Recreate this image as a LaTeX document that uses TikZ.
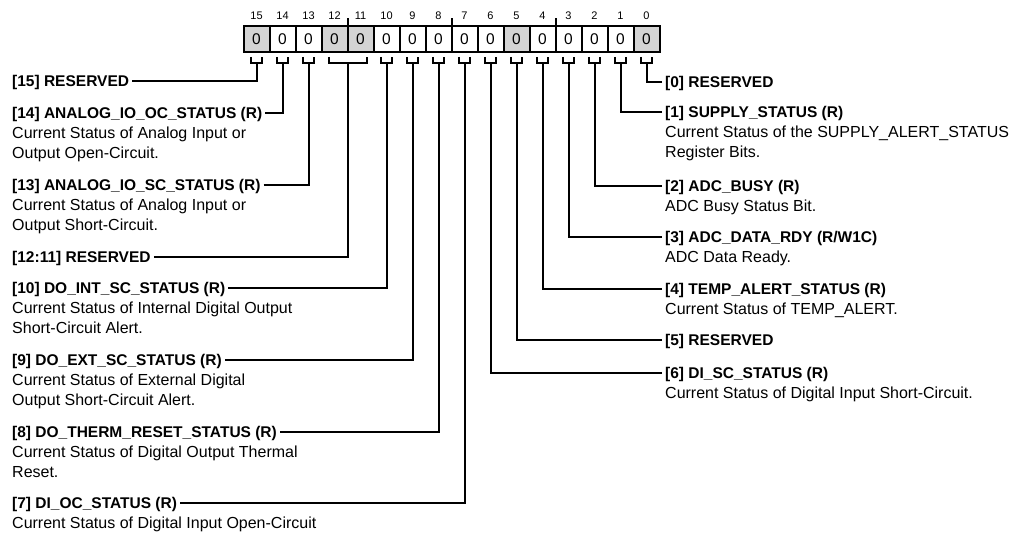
\documentclass[tikz,border=0pt]{standalone}
\usepackage{fontspec}
\setmainfont{Liberation Sans}
\definecolor{cellgray}{RGB}{212,212,212}

\begin{document}
\begin{tikzpicture}[x=1pt, y=-1pt,
    cell/.style={draw, line width=2pt, minimum width=26pt, minimum height=26pt,
      inner sep=0pt, outer sep=0pt, font=\fontsize{15.5}{15.5}\selectfont},
    bitnum/.style={inner sep=0pt, font=\fontsize{11}{11}\selectfont},
    wire/.style={line width=2pt},
    title/.style={inner xsep=3pt, inner ysep=0pt, text height=11.1pt, text depth=0pt,
      font=\bfseries\fontsize{15.5}{20}\selectfont},
    desc/.style={align=left, inner xsep=3pt, inner ysep=0pt, anchor=north west,
      font=\fontsize{16}{20}\selectfont}]

    \useasboundingbox (0,0) rectangle (1019,534);

    % 1. Register cells and bit numbers
    \foreach \i/\f in {15/cellgray, 14/white, 13/white, 12/cellgray, 11/cellgray,
        10/white, 9/white, 8/white, 7/white, 6/white, 5/cellgray, 4/white,
        3/white, 2/white, 1/white, 0/cellgray} {
      \pgfmathsetmacro{\xc}{256.5+26*(15-\i)}
      \node[bitnum] (n\i) at (\xc,15.5) {\i};
      \node[cell, fill=\f] (c\i) at (\xc,39) {0};
    }

    % nibble ticks
    \foreach \j in {12, 8, 4}
      \draw[wire] (c\j.north east) -- ++(0,-8);

    % 2. Brackets under the cells
    \foreach \i in {15, 14, 13, 10, 9, 8, 7, 6, 5, 4, 3, 2, 1, 0} {
      \pgfmathsetmacro{\xc}{256.5+26*(15-\i)}
      \draw[wire] ({\xc-5.5},57) |- ({\xc+5.5},63) -- ({\xc+5.5},57);
      \coordinate (b\i) at (\xc,63);
    }
    \draw[wire] (328.5,57) |- (366.5,63) -- (366.5,57);
    \coordinate (b1211) at (347.5,63);

    % 3. Fields on the left
    \node[title, anchor=west] (t15) at (9,81) {[15] RESERVED};
    \draw[wire] (t15.east) -| (b15);

    \node[title, anchor=west] (t14) at (9,113) {[14] ANALOG\_IO\_OC\_STATUS (R)};
    \node[desc] (d14) at (9,124.5) {\strut Current Status of Analog Input or\\Output Open-Circuit.};
    \draw[wire] (t14.east) -| (b14);

    \node[title, anchor=west] (t13) at (9,185) {[13] ANALOG\_IO\_SC\_STATUS (R)};
    \node[desc] (d13) at (9,196.5) {\strut Current Status of Analog Input or\\Output Short-Circuit.};
    \draw[wire] (t13.east) -| (b13);

    \node[title, anchor=west] (t1211) at (9,257) {[12:11] RESERVED};
    \draw[wire] (t1211.east) -| (b1211);

    \node[title, anchor=west] (t10) at (9,288) {[10] DO\_INT\_SC\_STATUS (R)};
    \node[desc] (d10) at (9,299.5) {\strut Current Status of Internal Digital Output\\Short-Circuit Alert.};
    \draw[wire] (t10.east) -| (b10);

    \node[title, anchor=west] (t9) at (9,360) {[9] DO\_EXT\_SC\_STATUS (R)};
    \node[desc] (d9) at (9,371.5) {\strut Current Status of External Digital\\Output Short-Circuit Alert.};
    \draw[wire] (t9.east) -| (b9);

    \node[title, anchor=west] (t8) at (9,432) {[8] DO\_THERM\_RESET\_STATUS (R)};
    \node[desc] (d8) at (9,443.5) {\strut Current Status of Digital Output Thermal\\Reset.};
    \draw[wire] (t8.east) -| (b8);

    \node[title, anchor=west] (t7) at (9,503) {[7] DI\_OC\_STATUS (R)};
    \node[desc] (d7) at (9,514.5) {\strut Current Status of Digital Input Open-Circuit};
    \draw[wire] (t7.east) -| (b7);

    % 4. Fields on the right
    \node[title, anchor=west] (t0) at (662,82) {[0] RESERVED};
    \draw[wire] (t0.west) -| (b0);

    \node[title, anchor=west] (t1) at (662,112) {[1] SUPPLY\_STATUS (R)};
    \node[desc] (d1) at (662,123.5) {\strut Current Status of the SUPPLY\_ALERT\_STATUS\\Register Bits.};
    \draw[wire] (t1.west) -| (b1);

    \node[title, anchor=west] (t2) at (662,186) {[2] ADC\_BUSY (R)};
    \node[desc] (d2) at (662,197.5) {\strut ADC Busy Status Bit.};
    \draw[wire] (t2.west) -| (b2);

    \node[title, anchor=west] (t3) at (662,237) {[3] ADC\_DATA\_RDY (R/W1C)};
    \node[desc] (d3) at (662,248.5) {\strut ADC Data Ready.};
    \draw[wire] (t3.west) -| (b3);

    \node[title, anchor=west] (t4) at (662,289) {[4] TEMP\_ALERT\_STATUS (R)};
    \node[desc] (d4) at (662,300.5) {\strut Current Status of TEMP\_ALERT.};
    \draw[wire] (t4.west) -| (b4);

    \node[title, anchor=west] (t5) at (662,340) {[5] RESERVED};
    \draw[wire] (t5.west) -| (b5);

    \node[title, anchor=west] (t6) at (662,373) {[6] DI\_SC\_STATUS (R)};
    \node[desc] (d6) at (662,384.5) {\strut Current Status of Digital Input Short-Circuit.};
    \draw[wire] (t6.west) -| (b6);

\end{tikzpicture}
\end{document}
